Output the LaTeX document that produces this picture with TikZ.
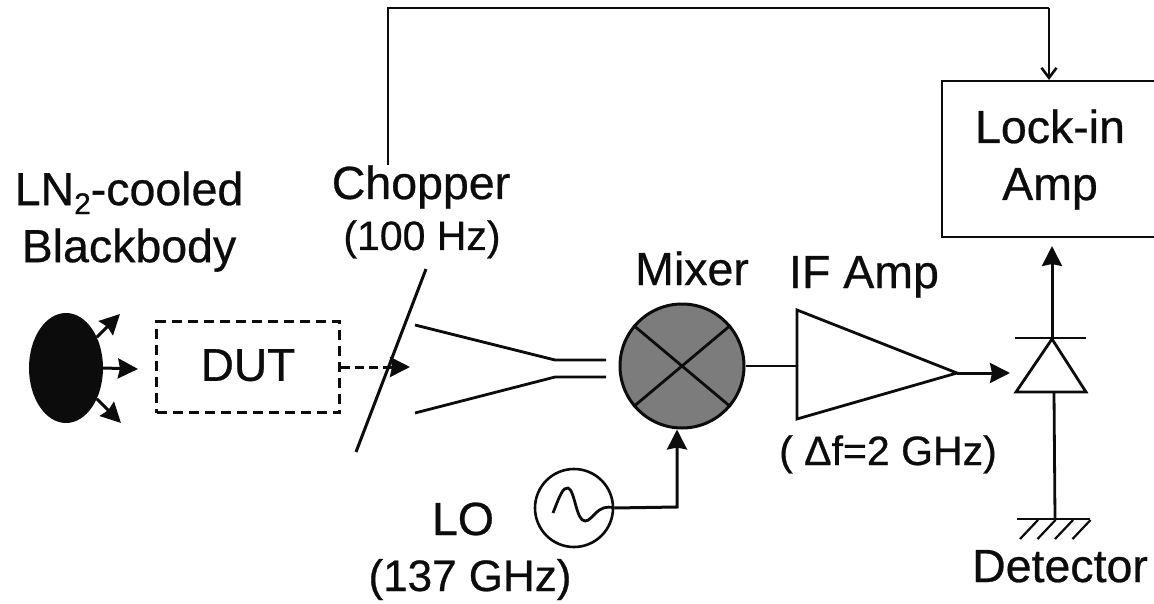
\documentclass[tikz,border=0pt]{standalone}
\usepackage{fontspec}
\setmainfont{Liberation Sans}[RawFeature={embolden=0.6}]
\usetikzlibrary{positioning, arrows.meta, shapes.geometric, calc}
\definecolor{mixergray}{HTML}{7C7C7C}
\definecolor{inkblack}{HTML}{0C0C0C}
\tikzset{
  wire/.style={line width=2.8pt, draw=inkblack},
  syncwire/.style={line width=2.2pt, draw=inkblack},
  flow/.style={-{Stealth[length=20pt, width=20pt, inset=2pt]}, line width=3pt, draw=inkblack},
  syncflow/.style={-{Straight Barb[length=10pt, width=15pt]}, line width=2.6pt, draw=inkblack},
  dashflow/.style={-{Stealth[length=20pt, width=20pt, inset=2pt]}, line width=3pt, draw=inkblack, dash pattern=on 9pt off 5pt},
  biglabel/.style={font=\fontsize{46.5}{57}\selectfont, text=inkblack, align=center, inner sep=0pt, anchor=base},
  smalllabel/.style={font=\fontsize{41}{46}\selectfont, text=inkblack, align=center, inner sep=0pt, anchor=base},
  box/.style={draw=inkblack, line width=2.4pt, align=center, inner sep=0pt},
}
\begin{document}
\begin{tikzpicture}[x=1pt, y=-1pt]
  \useasboundingbox (0,0) rectangle (1154,604);

  % Source and device (left)
  \node[ellipse, fill=inkblack, minimum width=74pt, minimum height=110pt, inner sep=0pt] (blackbody) at (66,368) {};
  \node[draw=inkblack, line width=3.2pt, dash pattern=on 10pt off 6pt, minimum width=183pt, minimum height=91pt, inner sep=0pt, font=\fontsize{46}{50}\selectfont, text=inkblack] (dut) at (248,367) {\raisebox{4pt}{DUT}};
  \node[biglabel, anchor=south] (bblabel) at (129,272) {LN\raisebox{-9pt}{\fontsize{30}{30}\selectfont 2}-cooled\\Blackbody};

  % Free ends of the connectors
  \coordinate (rayup) at (120,314);
  \coordinate (rayright) at (138,369);
  \coordinate (raydown) at (121,423);
  \coordinate (beamend) at (410,367);
  \coordinate (chopbottom) at (356,452);
  \coordinate (choptop) at (426,269);
  \coordinate (chopsync) at (388,165);

  \draw[flow] (blackbody.45) -- (rayup);
  \draw[flow] (blackbody.east) -- (rayright);
  \draw[flow] (blackbody.-45) -- (raydown);
  \draw[dashflow] (dut.east) -- (beamend);
  \draw[wire, line width=3pt] (chopbottom) -- (choptop);
  \node[biglabel] (chopperlabel) at (421,199) {Chopper};
  \node[smalllabel] (hzlabel) at (422,250) {(100 Hz)};

  % Horn
  \coordinate (hornA) at (415,325);
  \coordinate (hornB) at (555,360);
  \coordinate (hornC) at (606,360);
  \coordinate (hornD) at (415,413);
  \coordinate (hornE) at (555,377);
  \coordinate (hornF) at (606,377);
  \draw[wire] (hornA) -- (hornB) -- (hornC);
  \draw[wire] (hornD) -- (hornE) -- (hornF);

  % Mixer
  \node[circle, draw=inkblack, line width=3pt, fill=mixergray, minimum size=124pt, inner sep=0pt] (mixer) at (682,366) {};
  \draw[wire] (mixer.40) -- (mixer.220);
  \draw[wire] (mixer.140) -- (mixer.320);
  \node[biglabel] (mixerlabel) at (692,285) {Mixer};

  % Local oscillator
  \node[circle, draw=inkblack, line width=2.6pt, minimum size=78pt, inner sep=0pt] (lo) at (574,508) {};
  \draw[wire] (553,513) .. controls (560,495) and (563,487) .. (568,488) .. controls (575,490) and (576,521) .. (585,521) .. controls (593,521) and (597,503) .. (lo.east);
  \node[biglabel] (lolabel) at (463,535) {LO};
  \node[smalllabel, font=\fontsize{44}{46}\selectfont] (ghzlabel) at (470,591) {(137 GHz)};
  \coordinate (lojoin) at (677,507);
  \draw[flow] (lo.east) -- (lojoin) -- (mixer.south -| lojoin);

  % IF amplifier
  \node[inner sep=0pt, minimum size=0pt] (ampA) at (797,310) {};
  \node[inner sep=0pt, minimum size=0pt] (ampB) at (797,419) {};
  \node[inner sep=0pt, minimum size=0pt] (ampC) at (957,373) {};
  \draw[wire, line join=miter] (ampA.center) -- (ampB.center) -- (ampC.center) -- cycle;
  \draw[wire] (mixer.east) -- (797,366);
  \node[biglabel] (iflabel) at (864,288) {IF Amp};
  \node[smalllabel] (bwlabel) at (888,465) {( Δf=2 GHz)};

  % Detector
  \coordinate (diodeL) at (1016,392);
  \coordinate (diodeR) at (1086,392);
  \coordinate (diodeT) at (1052,339);
  \coordinate (barL) at (1015,338);
  \coordinate (barR) at (1086,338);
  \coordinate (gndmid) at (1055,519);
  \coordinate (detout) at (1052,246);
  \draw[flow] (ampC.center) -- (1010,373);
  \draw[wire, line join=miter] (diodeL) -- (diodeR) -- (diodeT) -- cycle;
  \draw[wire] (barL) -- (barR);
  \draw[flow] (diodeT) -- (detout);
  \draw[wire] (1054,392) -- (gndmid);
  \draw[wire] (1017,519) -- (1090,519);
  \foreach \i in {0,1,2,3} {
    \draw[wire, line width=2.2pt] (1038+\i*17.5,520) -- ++(-18,19);
  }
  \node[biglabel] (detlabel) at (1060,582) {Detector};

  % Lock-in amplifier and chopper reference
  \node[box, minimum width=220pt, minimum height=156pt, anchor=north west] (lockin) at (941,80) {};
  \node[biglabel] (lockinlabel) at (1050,143) {Lock-in};
  \node[biglabel] (amplabel) at (1050,200) {Amp};
  \coordinate (synccorner) at (388,8);
  \coordinate (syncdrop) at (1049,8);
  \draw[syncwire] (chopsync) -- (synccorner) -- (syncdrop);
  \draw[syncflow] (syncdrop) -- (syncdrop |- lockin.north);
\end{tikzpicture}
\end{document}
